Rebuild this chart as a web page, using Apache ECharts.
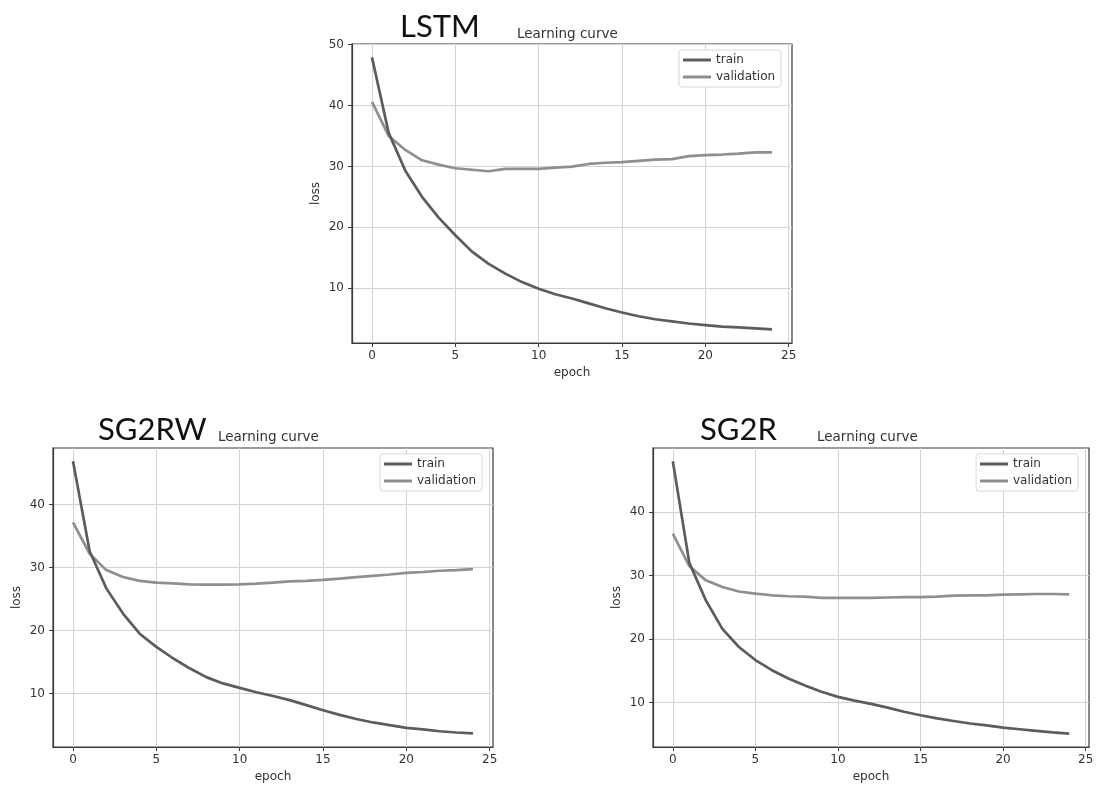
<!DOCTYPE html>
<html>
<head>
<meta charset="utf-8">
<script src="https://cdn.jsdelivr.net/npm/echarts@6/dist/echarts.min.js"></script>
<style>
html,body{margin:0;padding:0;background:#fff;}
#main{width:1097px;height:785px;}
</style>
</head>
<body>
<div id="main"></div>
<script>
const epochs = [0,1,2,3,4,5,6,7,8,9,10,11,12,13,14,15,16,17,18,19,20,21,22,23,24];
const xTicks = [0,5,10,15,20,25];

const chartNames = ['LSTM','SG2RW','SG2R'];
const subTitle = 'Learning curve';
const seriesNames = ['train','validation'];

const lstmTrain = [47.9,35.5,29.3,25.0,21.6,18.7,16.0,14.0,12.4,11.0,9.9,9.0,8.3,7.5,6.7,6.0,5.4,4.9,4.55,4.2,3.95,3.7,3.55,3.4,3.25];
const lstmVal   = [40.6,35.0,32.7,31.0,30.3,29.7,29.45,29.2,29.6,29.6,29.6,29.8,29.95,30.4,30.6,30.7,30.9,31.1,31.2,31.7,31.85,31.95,32.1,32.3,32.3];

const sg2rwTrain = [46.9,32.6,26.7,22.7,19.5,17.4,15.6,14.0,12.6,11.6,10.9,10.2,9.6,8.95,8.15,7.35,6.6,5.95,5.4,4.97,4.55,4.3,4.0,3.8,3.65];
const sg2rwVal   = [37.2,32.2,29.6,28.5,27.9,27.6,27.5,27.35,27.3,27.3,27.35,27.45,27.6,27.8,27.9,28.05,28.25,28.5,28.7,28.9,29.15,29.3,29.5,29.6,29.75];

const sg2rTrain = [48.0,32.0,26.1,21.6,18.75,16.7,15.1,13.8,12.7,11.7,10.9,10.3,9.8,9.2,8.55,8.0,7.5,7.1,6.7,6.4,6.05,5.8,5.55,5.3,5.1];
const sg2rVal   = [36.6,31.5,29.25,28.2,27.5,27.15,26.9,26.75,26.7,26.5,26.5,26.5,26.5,26.55,26.6,26.6,26.7,26.85,26.9,26.9,27.0,27.05,27.1,27.1,27.05];

const yTicksTop = [10,20,30,40,50];
const yTicksBottom = [10,20,30,40];

const pair = arr => epochs.map((e,i)=>[e,arr[i]]);

const trainColor = '#5c5c5c';
const valColor = '#8f8f8f';
const axisColor = '#3a3a3a';
const labelFont = {color:'#333', fontSize:12, fontFamily:'DejaVu Sans'};

const panels = [
  {grid:{left:352, top:44, width:440, height:299}, ymin:1.0, ymax:50.1, yt:yTicksTop, train:lstmTrain, val:lstmVal,
   title:{left:400, top:11}, sub:{left:517, top:27}, legend:{left:679, top:50}},
  {grid:{left:53, top:448, width:440, height:299}, ymin:1.5, ymax:49.0, yt:yTicksBottom, train:sg2rwTrain, val:sg2rwVal,
   title:{left:98, top:414}, sub:{left:218, top:430}, legend:{left:380, top:454}},
  {grid:{left:653, top:448, width:436, height:299}, ymin:3.0, ymax:50.1, yt:yTicksBottom, train:sg2rTrain, val:sg2rVal,
   title:{left:700, top:414}, sub:{left:817, top:430}, legend:{left:976, top:454}}
];

const option = {
  animation:false,
  backgroundColor:'#fff',
  title:[], grid:[], xAxis:[], yAxis:[], legend:[], series:[]
};

panels.forEach((p,i)=>{
  option.title.push({text:chartNames[i], left:p.title.left, top:p.title.top, padding:0,
    textStyle:{fontFamily:'Lato', fontSize:31, fontWeight:'normal', color:'#111'}});
  option.title.push({text:subTitle, left:p.sub.left, top:p.sub.top, padding:0,
    textStyle:{fontFamily:'DejaVu Sans', fontSize:13.5, fontWeight:'normal', color:'#333'}});
  option.grid.push(Object.assign({show:true, borderColor:axisColor, borderWidth:1.2, backgroundColor:'#fff'}, p.grid));
  option.xAxis.push({type:'value', gridIndex:i, min:-1.2, max:25.2,
    name:'epoch', nameLocation:'middle', nameGap:24, nameTextStyle:labelFont,
    axisLine:{show:true, onZero:false, lineStyle:{color:axisColor, width:1.2}},
    axisTick:{show:true, length:4, customValues:xTicks, lineStyle:{color:axisColor}},
    axisLabel:{customValues:xTicks, margin:7, ...labelFont},
    splitLine:{show:true, lineStyle:{color:'#d2d2d2', width:1}}});
  option.yAxis.push({type:'value', gridIndex:i, min:p.ymin, max:p.ymax,
    name:'loss', nameLocation:'middle', nameGap:30, nameTextStyle:labelFont,
    axisLine:{show:true, onZero:false, lineStyle:{color:axisColor, width:1.2}},
    axisTick:{show:true, length:4, customValues:p.yt, lineStyle:{color:axisColor}},
    axisLabel:{customValues:p.yt, margin:8, ...labelFont},
    splitLine:{show:true, lineStyle:{color:'#d2d2d2', width:1}}});
  option.legend.push({orient:'vertical', left:p.legend.left, top:p.legend.top, data:seriesNames,
    icon:'rect', itemWidth:28, itemHeight:3, itemGap:5, padding:[4,6,4,4],
    borderColor:'#d8d8d8', borderWidth:1, borderRadius:3, backgroundColor:'#fff',
    textStyle:{...labelFont}, selectedMode:false});
  option.series.push({name:seriesNames[0], type:'line', xAxisIndex:i, yAxisIndex:i, data:pair(p.train),
    symbol:'none', color:trainColor, lineStyle:{color:trainColor, width:2.7}, z:3});
  option.series.push({name:seriesNames[1], type:'line', xAxisIndex:i, yAxisIndex:i, data:pair(p.val),
    symbol:'none', color:valColor, lineStyle:{color:valColor, width:2.7}, z:2});
});

const chart = echarts.init(document.getElementById('main'), null, {renderer:'canvas'});
chart.setOption(option);
</script>
</body>
</html>
